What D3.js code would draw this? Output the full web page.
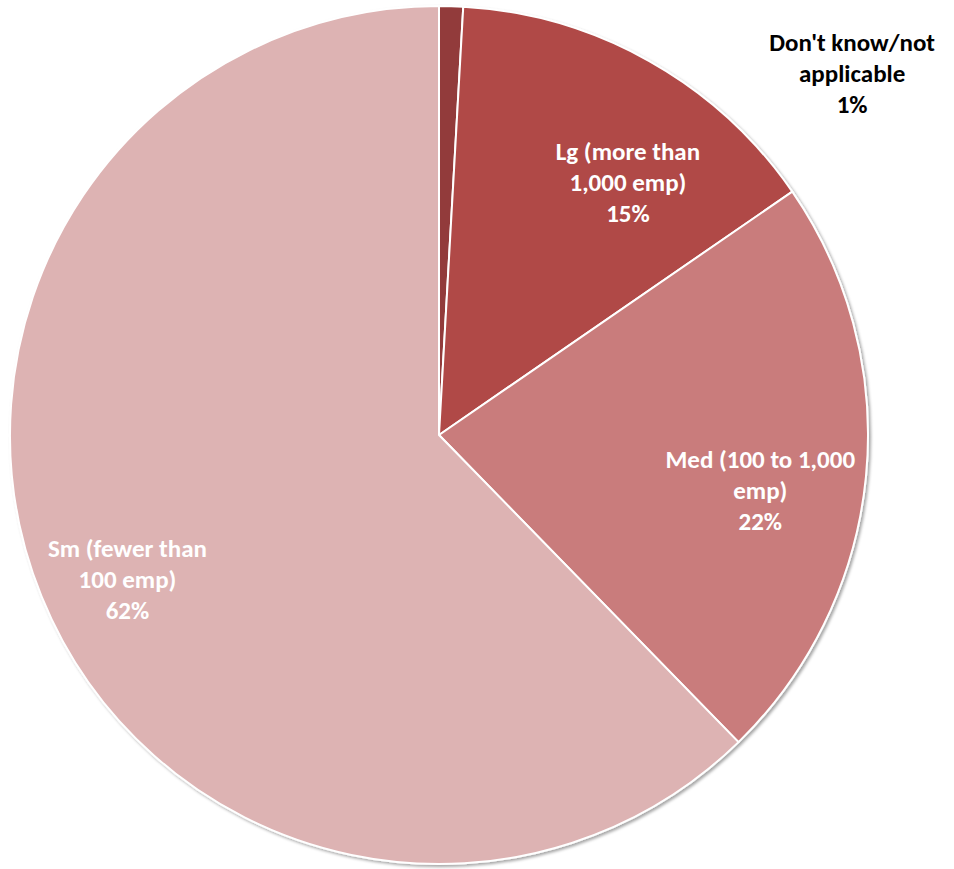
<!DOCTYPE html>
<html>
<head>
<meta charset="utf-8">
<script src="https://cdn.jsdelivr.net/npm/d3@7/dist/d3.min.js"></script>
<style>
  html, body { margin: 0; padding: 0; background: #fff; }
  svg { display: block; }
</style>
</head>
<body>
<svg id="chart" width="954" height="869"></svg>
<script>
// ---- data ----
const categories = ["Don't know/not applicable", "Lg (more than 1,000 emp)", "Med (100 to 1,000 emp)", "Sm (fewer than 100 emp)"];
const values = [0.9, 14.5, 22.3, 62.3];
const percentLabels = ["1%", "15%", "22%", "62%"];
const labelLines = [["Don't know/not", "applicable"], ["Lg (more than", "1,000 emp)"], ["Med (100 to 1,000", "emp)"], ["Sm (fewer than", "100 emp)"]];
const colors = ["#923b3a", "#b04946", "#c97c7b", "#ddb3b3"];

// ---- layout ----
const W = 954, H = 869;
const cx = 439, cy = 435, R = 429;
// label anchor (angle in degrees clockwise from 12 o'clock, radius fraction) per slice
const labelAnchors = [
  {angle: 48.8, r: 1.28, color: "#000"},
  {angle: 36.7, r: 0.737, color: "#fff"},
  {angle: 99.8, r: 0.76, color: "#fff"},
  {angle: 245.2, r: 0.80, color: "#fff"}
];

const svg = d3.select("#chart");
const defs = svg.append("defs");
const f = defs.append("filter").attr("id", "shadow").attr("x", "-5%").attr("y", "-5%").attr("width", "110%").attr("height", "110%");
f.append("feDropShadow").attr("dx", 2).attr("dy", 2).attr("stdDeviation", 1.5).attr("flood-color", "#000").attr("flood-opacity", 0.35);

const g = svg.append("g").attr("transform", `translate(${cx},${cy})`);

const pie = d3.pie().sort(null).value(d => d);
const arcs = pie(values);
const arc = d3.arc().innerRadius(0).outerRadius(R);

const slices = g.append("g").attr("filter", "url(#shadow)");
slices.selectAll("path")
  .data(arcs)
  .join("path")
  .attr("d", arc)
  .attr("fill", (d, i) => colors[i])
  .attr("stroke", "#fff")
  .attr("stroke-width", 2)
  .attr("stroke-linejoin", "round");

const lineH = 31;
const labels = g.append("g")
  .style("font-family", "Carlito, Lato, 'Open Sans', sans-serif")
  .style("font-weight", "bold")
  .style("font-size", "25px")
  .attr("text-anchor", "middle");

arcs.forEach((d, i) => {
  const a = labelAnchors[i];
  const rad = a.angle * Math.PI / 180;
  const x = Math.sin(rad) * R * a.r;
  const y = -Math.cos(rad) * R * a.r;
  const lines = labelLines[i].concat([percentLabels[i]]);
  const t = labels.append("text")
    .attr("fill", a.color)
    .attr("x", x)
    .attr("y", y - (lines.length - 1) * lineH / 2)
    .attr("dominant-baseline", "central");
  lines.forEach((l, j) => {
    t.append("tspan").attr("x", x).attr("dy", j === 0 ? 0 : lineH).text(l);
  });
});
</script>
</body>
</html>
